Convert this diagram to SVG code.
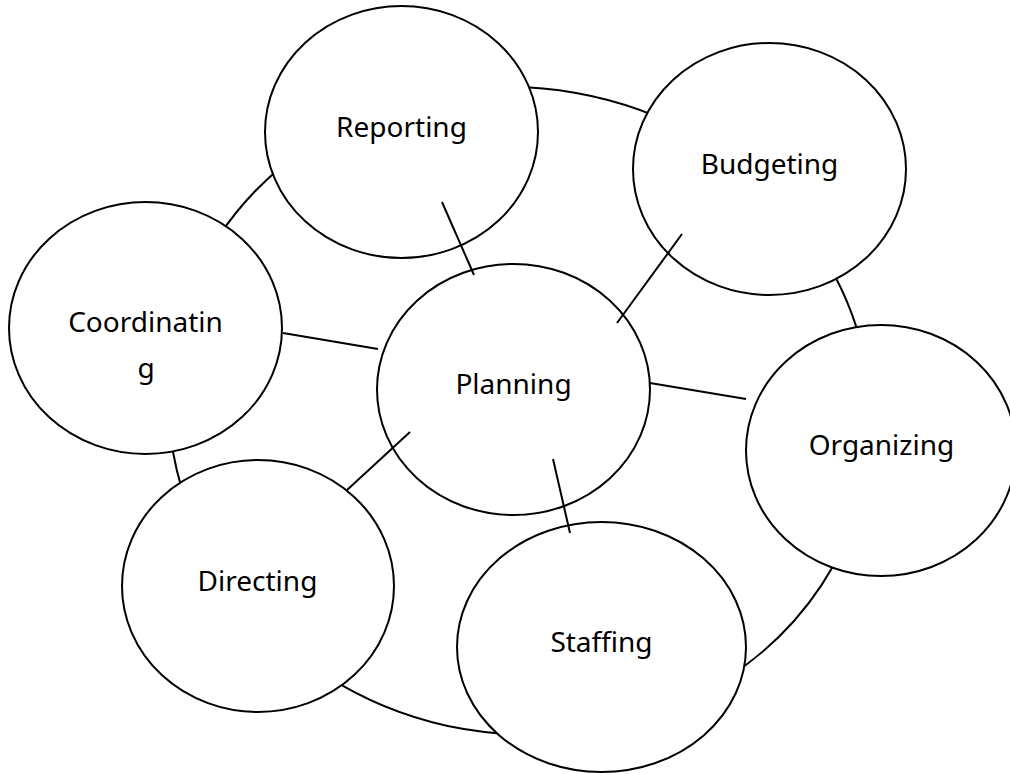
<svg xmlns="http://www.w3.org/2000/svg" width="1010" height="774" viewBox="0 0 1010 774">
<style>
.ring{fill:none;stroke:#000;stroke-width:2}
.node ellipse{fill:#fff;stroke:#000;stroke-width:2}
.node text{font-family:"Noto Sans","Open Sans",sans-serif;font-size:28px;fill:#000;text-anchor:middle}
.conn line{stroke:#000;stroke-width:2}
</style>
<rect width="1010" height="774" fill="#fff"/>
<g id="cycle">
<ellipse class="ring" cx="520" cy="411" rx="352" ry="323" transform="rotate(10 520 411)"/>
</g>
<g id="reporting" class="node">
<ellipse cx="401.5" cy="132" rx="136.5" ry="126"/>
<text x="401.5" y="137">Reporting</text>
</g>
<g id="budgeting" class="node">
<ellipse cx="769.5" cy="169" rx="136.5" ry="126"/>
<text x="769.5" y="174">Budgeting</text>
</g>
<g id="coordinating" class="node">
<ellipse cx="145.5" cy="328" rx="136.5" ry="126"/>
<text x="145.5" y="332">Coordinatin</text>
<text x="146" y="378">g</text>
</g>
<g id="planning" class="node">
<ellipse cx="513.5" cy="389.5" rx="136.5" ry="125.5"/>
<text x="513.5" y="394">Planning</text>
</g>
<g id="organizing" class="node">
<ellipse cx="881" cy="450.5" rx="135" ry="125.5"/>
<text x="881.5" y="455">Organizing</text>
</g>
<g id="directing" class="node">
<ellipse cx="258" cy="586" rx="136" ry="126"/>
<text x="257.5" y="591">Directing</text>
</g>
<g id="staffing" class="node">
<ellipse cx="601.5" cy="647" rx="144.5" ry="125"/>
<text x="601.5" y="652">Staffing</text>
</g>
<g id="connectors" class="conn">
<line x1="442" y1="202" x2="474" y2="275"/>
<line x1="682" y1="234" x2="617" y2="323"/>
<line x1="283" y1="333" x2="378" y2="349"/>
<line x1="650" y1="383" x2="746" y2="399"/>
<line x1="410" y1="432" x2="347" y2="490"/>
<line x1="553" y1="459" x2="570" y2="533"/>
</g>
</svg>
